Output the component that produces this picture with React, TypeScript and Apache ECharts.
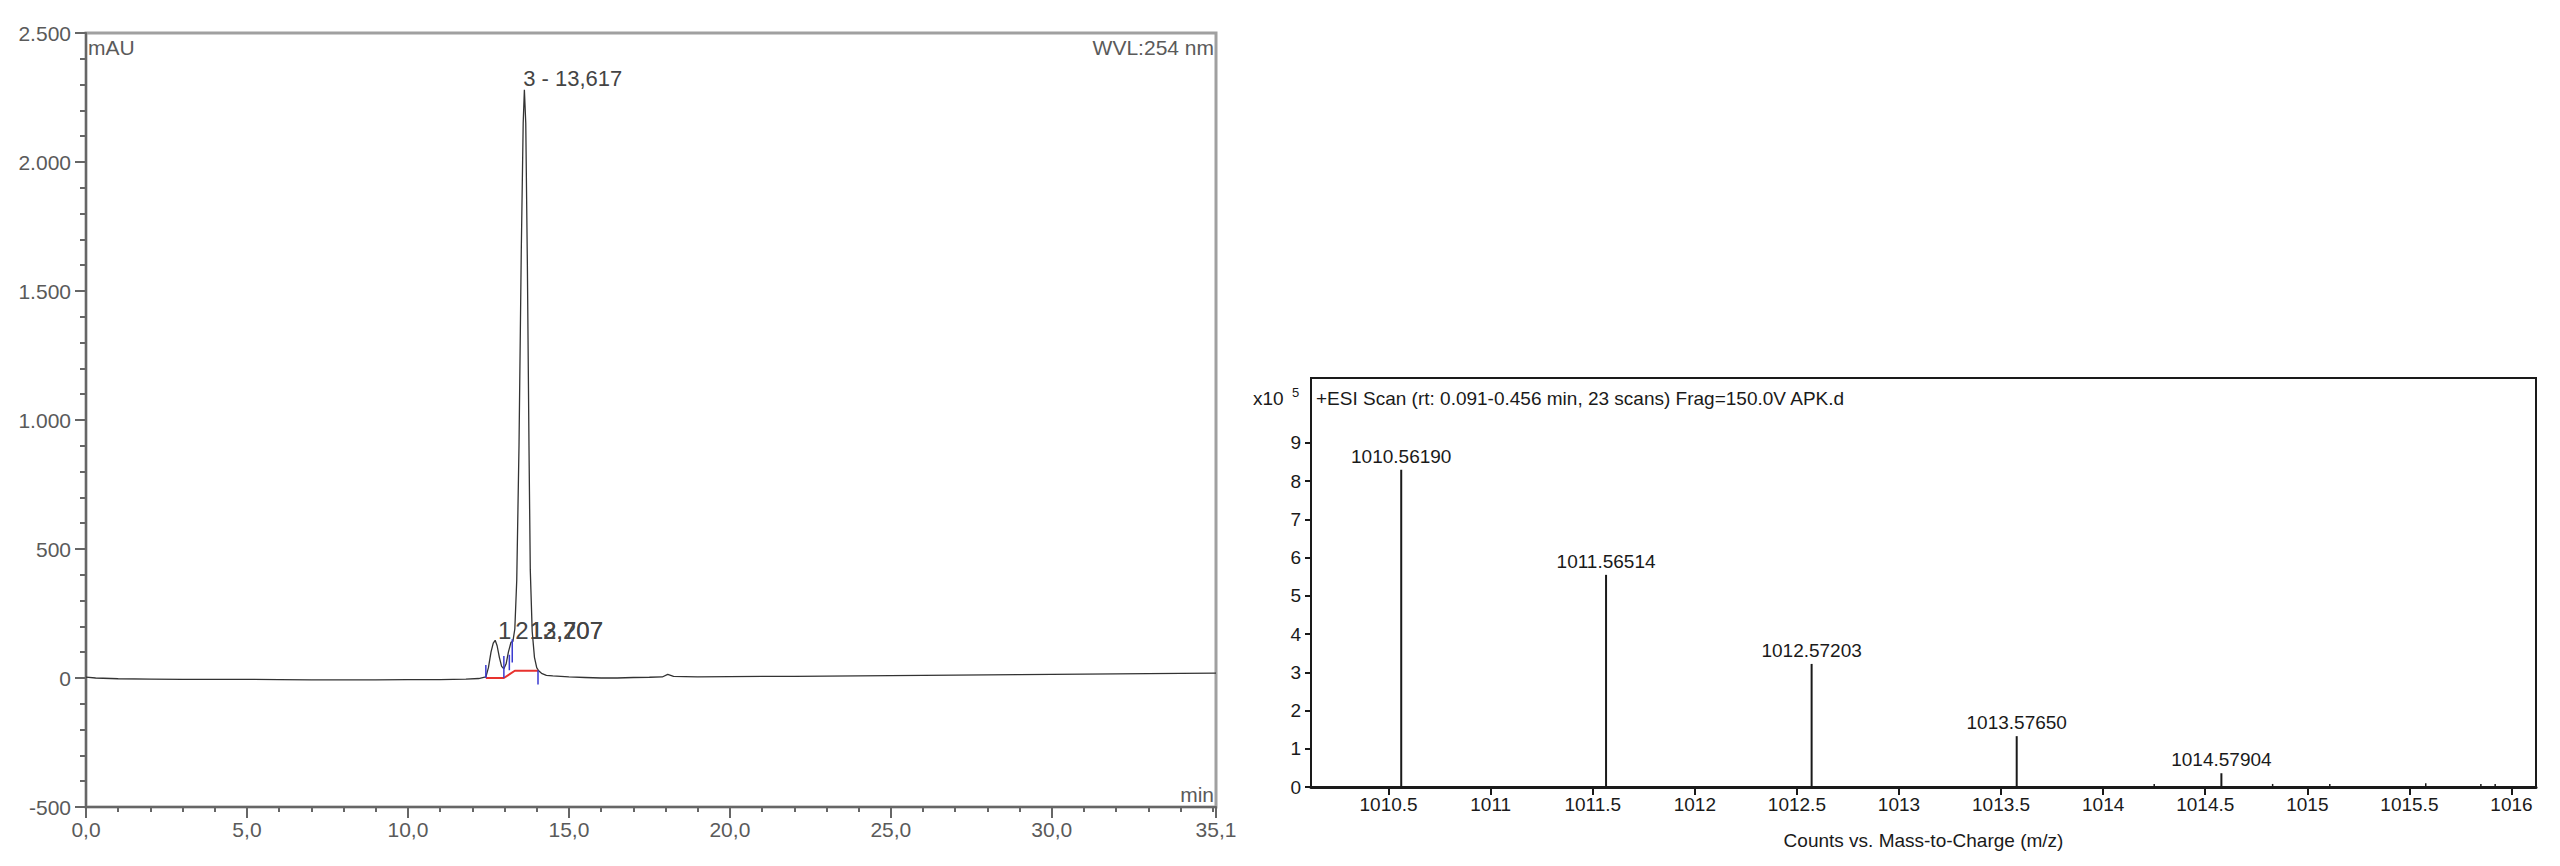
import React, { useEffect, useRef } from "react";
import * as echarts from "echarts";

// ---------- Left: HPLC chromatogram (WVL 254 nm) ----------
const chromTime = [0, 0.3, 1, 2, 3, 4, 5, 6, 7, 8, 9, 10, 11, 11.8, 12.2, 12.42, 12.5, 12.58, 12.65, 12.71, 12.77, 12.84, 12.91, 12.98, 13.05, 13.12, 13.2, 13.26, 13.32, 13.38, 13.45, 13.52, 13.58, 13.617, 13.66, 13.71, 13.76, 13.8, 13.86, 13.93, 14.0, 14.06, 14.15, 14.3, 14.5, 15, 15.5, 16, 16.5, 17, 17.5, 17.9, 18.07, 18.25, 18.6, 19, 20, 21, 22, 23, 24, 25, 26, 27, 28, 29, 30, 31, 32, 33, 34, 35.1];
const chromSignal = [3, 0, -3, -4, -5, -5, -5, -6, -7, -7, -7, -6, -6, -4, -2, 4, 40, 100, 135, 146, 125, 80, 45, 36, 55, 100, 138, 142, 190, 380, 900, 1650, 2150, 2280, 2150, 1600, 900, 420, 180, 80, 40, 28, 18, 10, 8, 4, 2, 0, 0, 2, 3, 4, 14, 6, 5, 4, 5, 6, 6, 7, 8, 9, 10, 11, 12, 13, 14, 15, 16, 17, 18, 19];

const baselineTime = [12.42, 12.98, 13.32, 14.04];
const baselineSignal = [0, 0, 28, 28];

const markerTime = [12.42, 12.98, 13.15, 13.24, 14.04];
const markerLow = [0, 0, 30, 60, -25];
const markerHigh = [50, 85, 90, 150, 30];

const peakLabelText = ["3 - 13,617", "1", "2", "12,707", "13,207"];
const peakLabelTime = [13.58, 12.8, 13.33, 13.78, 13.78];
const peakLabelSignal = [2325, 185, 185, 185, 185];
const peakLabelSize = [22, 24, 24, 24, 24];

const chromYTicks = [-500, 0, 500, 1000, 1500, 2000, 2500];
const chromXTicks = [0, 5, 10, 15, 20, 25, 30, 35.1];

// ---------- Right: ESI mass spectrum ----------
const mzPeaks = [1010.5619, 1011.56514, 1012.57203, 1013.5765, 1014.57904];
const mzIntensity = [8.3, 5.55, 3.22, 1.33, 0.36]; // x10^5 counts
const mzPeakLabels = ["1010.56190", "1011.56514", "1012.57203", "1013.57650", "1014.57904"];
const noiseMz = [1014.25, 1014.83, 1015.11, 1015.58, 1015.85, 1015.92];
const noiseIntensity = [0.08, 0.08, 0.08, 0.1, 0.08, 0.08];
const mzTicks = [1010.5, 1011, 1011.5, 1012, 1012.5, 1013, 1013.5, 1014, 1014.5, 1015, 1015.5, 1016];
const countTicks = [0, 1, 2, 3, 4, 5, 6, 7, 8, 9];

const FONT = "'Liberation Sans', Arial, sans-serif";
const GREY = "#5a5a5a";
const BLACK = "#1a1a1a";

function fmtThousands(v: number): string {
  const s = Math.abs(v).toString().replace(/\B(?=(\d{3})+(?!\d))/g, ".");
  return (v < 0 ? "-" : "") + s;
}

export default function App() {
  const ref = useRef<HTMLDivElement>(null);

  useEffect(() => {
    if (!ref.current) return;
    const chart = echarts.init(ref.current, undefined, { renderer: "svg" });

    const option: any = {
      animation: false,
      backgroundColor: "#ffffff",
      textStyle: { fontFamily: FONT },
      grid: [
        { left: 86, top: 33, width: 1130, height: 774, show: true, borderColor: "#a0a0a0", borderWidth: 3, backgroundColor: "transparent" },
        { left: 1311, top: 378, width: 1225, height: 409, show: true, borderColor: BLACK, borderWidth: 2, backgroundColor: "transparent" },
      ],
      xAxis: [
        {
          type: "value", gridIndex: 0, min: 0, max: 35.1, interval: 5,
          axisLine: { show: true, onZero: false, lineStyle: { color: "#666", width: 2 } },
          axisTick: { show: true, length: 11, customValues: chromXTicks, lineStyle: { color: "#666", width: 2 } },
          axisLabel: {
            show: true, customValues: chromXTicks, margin: 12, color: GREY, fontSize: 21, fontFamily: FONT,
            formatter: (v: number) => v.toFixed(1).replace(".", ","),
          },
          splitLine: { show: false },
        },
        {
          type: "value", gridIndex: 0, min: 0, max: 35.1, interval: 1, position: "bottom",
          axisLine: { show: false, onZero: false },
          axisTick: { show: true, length: 5, lineStyle: { color: "#666", width: 2 } },
          axisLabel: { show: false },
          splitLine: { show: false },
        },
        {
          type: "value", gridIndex: 1, min: 1010.12, max: 1016.12,
          axisLine: { show: true, onZero: false, lineStyle: { color: BLACK, width: 3 } },
          axisTick: { show: true, length: 8, customValues: mzTicks, lineStyle: { color: BLACK, width: 2 } },
          axisLabel: {
            show: true, customValues: mzTicks, margin: 8, color: BLACK, fontSize: 19, fontFamily: FONT,
            formatter: (v: number) => String(v),
          },
          splitLine: { show: false },
          name: "Counts vs. Mass-to-Charge (m/z)",
          nameLocation: "middle", nameGap: 44,
          nameTextStyle: { color: BLACK, fontSize: 19, fontFamily: FONT },
        },
      ],
      yAxis: [
        {
          type: "value", gridIndex: 0, min: -500, max: 2500, interval: 500,
          axisLine: { show: true, onZero: false, lineStyle: { color: "#666", width: 2 } },
          axisTick: { show: true, length: 11, lineStyle: { color: "#666", width: 2 } },
          minorTick: { show: true, splitNumber: 5, length: 6, lineStyle: { color: "#666", width: 2 } },
          axisLabel: {
            show: true, margin: 15, color: GREY, fontSize: 21, fontFamily: FONT,
            customValues: chromYTicks,
            formatter: (v: number) => fmtThousands(v),
          },
          splitLine: { show: false },
        },
        {
          type: "value", gridIndex: 1, min: 0, max: 10.7,
          axisLine: { show: true, onZero: false, lineStyle: { color: BLACK, width: 2 } },
          axisTick: { show: true, length: 6, customValues: countTicks, lineStyle: { color: BLACK, width: 2 } },
          axisLabel: {
            show: true, customValues: countTicks, margin: 10, color: BLACK, fontSize: 19, fontFamily: FONT,
            formatter: (v: number) => String(v),
          },
          splitLine: { show: false },
        },
      ],
      series: [
        {
          name: "trace", type: "line", xAxisIndex: 0, yAxisIndex: 0,
          data: chromTime.map((t, i) => [t, chromSignal[i]]),
          showSymbol: false, symbol: "none",
          lineStyle: { color: "#333", width: 1.3 },
          z: 3,
        },
        {
          name: "baseline", type: "line", xAxisIndex: 0, yAxisIndex: 0,
          data: baselineTime.map((t, i) => [t, baselineSignal[i]]),
          showSymbol: false, symbol: "none",
          lineStyle: { color: "#e8322e", width: 2 },
          z: 4,
        },
        {
          name: "markers", type: "custom", xAxisIndex: 0, yAxisIndex: 0,
          data: markerTime.map((t, i) => [t, markerLow[i], markerHigh[i]]),
          renderItem: (params: any, api: any) => {
            const a = api.coord([api.value(0), api.value(1)]);
            const b = api.coord([api.value(0), api.value(2)]);
            return {
              type: "line",
              shape: { x1: a[0], y1: a[1], x2: b[0], y2: b[1] },
              style: { stroke: "#3a3ad0", lineWidth: 1.5 },
            };
          },
          z: 5,
        },
        {
          name: "peakLabels", type: "custom", xAxisIndex: 0, yAxisIndex: 0,
          data: peakLabelTime.map((t, i) => [t, peakLabelSignal[i]]),
          renderItem: (params: any, api: any) => {
            const p = api.coord([api.value(0), api.value(1)]);
            return {
              type: "text",
              x: p[0], y: p[1],
              style: {
                text: peakLabelText[params.dataIndex],
                fill: "#444", fontSize: peakLabelSize[params.dataIndex], fontFamily: FONT,
                align: "left", verticalAlign: "middle",
              },
            };
          },
          z: 6,
        },
        {
          name: "spectrum", type: "custom", xAxisIndex: 2, yAxisIndex: 1,
          data: mzPeaks.map((m, i) => [m, mzIntensity[i]]),
          renderItem: (params: any, api: any) => {
            const base = api.coord([api.value(0), 0]);
            const top = api.coord([api.value(0), api.value(1)]);
            return {
              type: "group",
              children: [
                { type: "line", shape: { x1: base[0], y1: base[1], x2: top[0], y2: top[1] }, style: { stroke: BLACK, lineWidth: 2 } },
                {
                  type: "text", x: top[0], y: top[1] - 4,
                  style: {
                    text: mzPeakLabels[params.dataIndex], fill: BLACK, fontSize: 19, fontFamily: FONT,
                    align: "center", verticalAlign: "bottom",
                  },
                },
              ],
            };
          },
          z: 5,
        },
        {
          name: "noise", type: "custom", xAxisIndex: 2, yAxisIndex: 1,
          data: noiseMz.map((m, i) => [m, noiseIntensity[i]]),
          renderItem: (params: any, api: any) => {
            const base = api.coord([api.value(0), 0]);
            const top = api.coord([api.value(0), api.value(1)]);
            return { type: "line", shape: { x1: base[0], y1: base[1], x2: top[0], y2: top[1] }, style: { stroke: BLACK, lineWidth: 1.5 } };
          },
          z: 5,
        },
      ],
      graphic: [
        { type: "text", left: 88, top: 37, style: { text: "mAU", fill: GREY, fontSize: 21, fontFamily: FONT } },
        { type: "text", right: 2560 - 1214, top: 37, style: { text: "WVL:254 nm", fill: GREY, fontSize: 21, fontFamily: FONT } },
        { type: "text", right: 2560 - 1214, top: 784, style: { text: "min", fill: GREY, fontSize: 21, fontFamily: FONT } },
        { type: "text", left: 1253, top: 389, style: { text: "x10", fill: BLACK, fontSize: 19, fontFamily: FONT } },
        { type: "text", left: 1292, top: 386, style: { text: "5", fill: BLACK, fontSize: 13, fontFamily: FONT } },
        { type: "text", left: 1316, top: 389, style: { text: "+ESI Scan (rt: 0.091-0.456 min, 23 scans) Frag=150.0V APK.d", fill: BLACK, fontSize: 19, fontFamily: FONT } },
      ],
    };

    chart.setOption(option);
    return () => chart.dispose();
  }, []);

  return (
    <div
      ref={ref}
      style={{ position: "absolute", left: 0, top: 0, width: 2560, height: 866, background: "#fff" }}
    />
  );
}
